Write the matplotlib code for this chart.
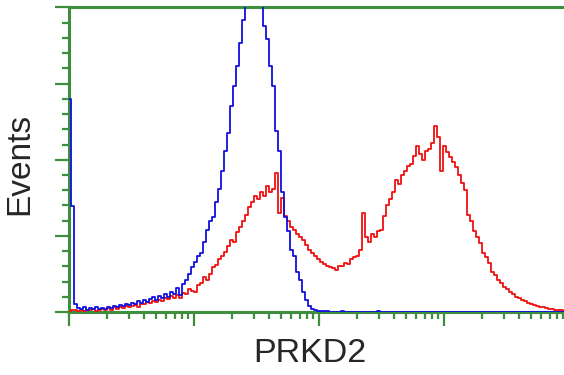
import numpy as np
import matplotlib
matplotlib.use("Agg")
import matplotlib.pyplot as plt
from matplotlib.ticker import LogLocator, MultipleLocator, NullFormatter

plt.rcParams['font.family'] = ['Liberation Sans', 'DejaVu Sans']

# histogram channel grid (log decades 0 .. 3.96), 166 channels
n_channels = 166
log_max = 3.96

# events per channel, isotype control (blue)
blue_events = [
    280, 139, 11, 5, 4, 7, 3, 5, 4, 7, 4, 5, 4, 7, 5, 8, 7, 9, 8, 11,
    9, 12, 11, 15, 12, 16, 13, 17, 20, 16, 21, 18, 24, 20, 26, 24, 32, 22, 37, 42,
    50, 59, 66, 73, 77, 92, 108, 119, 125, 145, 161, 185, 211, 235, 271, 297, 323, 354, 383, 409,
    436, 449, 442, 429, 403, 376, 359, 323, 297, 238, 211, 158, 125, 106, 82, 73, 53, 42, 26, 16,
    8, 4, 3, 1, 1, 1, 1,
    0, 0, 0, 0, 1, 0, 0, 0, 0, 0, 0, 0, 0, 0, 0, 0, 1, 0, 0, 0,
    0, 0, 0, 0, 0, 0, 0, 0, 0, 0, 0, 0, 0, 0, 0, 0, 0, 0, 0, 0,
    0, 0, 0, 0, 0, 0, 0, 0, 0, 0, 0, 0, 0, 0, 0, 0, 0, 0, 0, 0,
    0, 0, 0, 0, 0, 0, 0, 0, 0, 0, 0, 0, 0, 0, 0, 0, 0, 0, 0,
]

# events per channel, PRKD2 stained (red)
red_events = [
    0, 3, 3, 1, 3, 1, 3, 2, 4, 1, 3, 4, 2, 5, 3, 6, 4, 7, 5, 8,
    6, 8, 9, 7, 11, 10, 13, 12, 15, 13, 16, 14, 19, 17, 21, 18, 22, 19, 25, 24,
    30, 27, 26, 36, 38, 46, 42, 50, 59, 62, 70, 73, 79, 87, 95, 92, 105, 112, 120, 128,
    138, 145, 152, 148, 158, 152, 165, 158, 161, 183, 130, 150, 126, 119, 112, 108, 103, 98, 95, 88,
    82, 78, 73, 70, 66, 63, 61, 59, 58, 55, 60, 61, 64, 63, 69, 72, 74, 82, 130, 98,
    92, 102, 99, 106, 108, 126, 140, 148, 158, 173, 168, 180, 185, 192, 195, 205, 218, 208, 200, 211,
    214, 222, 244, 230, 185, 218, 210, 204, 197, 190, 180, 170, 160, 128, 120, 106, 98, 90, 78, 72,
    64, 53, 48, 42, 38, 33, 30, 26, 23, 20, 18, 16, 14, 12, 11, 9, 8, 7, 6, 5,
    4, 4, 3, 2, 2, 1,
]

assert len(blue_events) == n_channels, len(blue_events)
assert len(red_events) == n_channels, len(red_events)

channels = np.logspace(0, log_max, n_channels)

green = '#3d8f3d'
text_color = '#262626'

fig = plt.figure(figsize=(5.64, 3.75), dpi=100)
ax = fig.add_axes([69 / 564, 63 / 375, 1 - 69 / 564, (312 - 7.5) / 375])

ax.plot(channels, red_events, color='#f01010', lw=1.3, drawstyle='steps-mid', zorder=3)
ax.plot(channels, blue_events, color='#1010e0', lw=1.3, drawstyle='steps-mid', zorder=4)

ax.set_xscale('log')
ax.set_xlim(1, 10 ** log_max)
ax.set_ylim(0, 400)

for side in ['left', 'bottom', 'top']:
    ax.spines[side].set_color(green)
    ax.spines[side].set_linewidth(2.2)
ax.spines['right'].set_visible(False)

ax.xaxis.set_major_locator(LogLocator(base=10, numticks=10))
ax.xaxis.set_minor_locator(LogLocator(base=10, subs=np.arange(2, 10), numticks=20))
ax.xaxis.set_major_formatter(NullFormatter())
ax.xaxis.set_minor_formatter(NullFormatter())
ax.yaxis.set_major_locator(MultipleLocator(100))
ax.yaxis.set_minor_locator(MultipleLocator(20))
ax.yaxis.set_major_formatter(NullFormatter())

ax.tick_params(axis='both', which='major', direction='out', length=10, width=1.6, color=green)
ax.tick_params(axis='both', which='minor', direction='out', length=5, width=1.6, color=green)
ax.tick_params(top=False, right=False, which='both')

fig.text(20 / 564, 1 - 164 / 375, 'Events', rotation=90, ha='center', va='center',
         fontsize=24, color=text_color)
fig.text(310 / 564, 1 - 354 / 375, 'PRKD2', ha='center', va='center',
         fontsize=24.5, color=text_color)

fig.savefig('out.png', dpi=100, facecolor='white')
